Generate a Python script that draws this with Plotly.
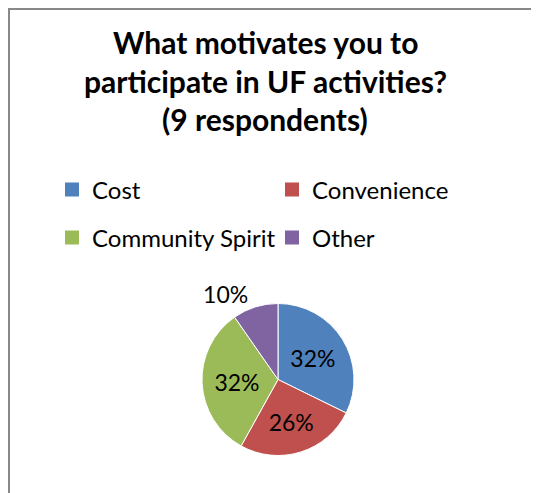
import plotly.graph_objects as go

CATEGORIES = ["Cost", "Convenience", "Community Spirit", "Other"]
VALUES = [10, 8, 10, 3]
COLORS = ["#4F81BD", "#C0504D", "#9BBB59", "#8064A2"]
TEXT_POS = ["inside", "inside", "inside", "outside"]
LEGEND_ROWS = [0, 0, 1, 1]
TITLE_LINES = ["What motivates you to", "participate in UF activities?", "(9 respondents)"]

# page is 539x493; the HTML body adds an 8px margin, so the figure fills the rest of the window
W, H = 531, 485
FONT = "Lato"

fig = go.Figure()
cx, cy, r = 270, 371.5, 76
fig.add_trace(go.Pie(
    labels=CATEGORIES, values=VALUES, sort=False, direction="clockwise", rotation=0,
    marker=dict(colors=COLORS, line=dict(color="white", width=1)),
    texttemplate="%{percent:.0%}", textposition=TEXT_POS,
    insidetextorientation="horizontal",
    textfont=dict(family=FONT, size=23, color="black"),
    showlegend=False, hoverinfo="label+percent",
    domain=dict(x=[(cx - r) / W, (cx + r) / W], y=[(H - cy - r) / H, (H - cy + r) / H]),
))

for name, col, row in zip(CATEGORIES, COLORS, LEGEND_ROWS):
    fig.add_trace(go.Scatter(
        x=[None], y=[None], mode="markers", name=name,
        marker=dict(symbol="square", size=14, color=col, line=dict(width=0)),
        legend="legend" if row == 0 else "legend2",
    ))

common = dict(orientation="h", xanchor="left", yanchor="middle",
              font=dict(family=FONT, size=24, color="black"),
              entrywidth=175, entrywidthmode="pixels",
              bgcolor="rgba(0,0,0,0)", borderwidth=0)
fig.update_layout(
    legend=dict(x=44 / W, y=1 - 182 / H, **common),
    legend2=dict(x=44 / W, y=1 - 230 / H, **common),
)

title_y = [34.5, 73, 111.5]
for line, yy in zip(TITLE_LINES, title_y):
    fig.add_annotation(text="<b>" + line + "</b>", x=257 / W, y=1 - yy / H, xref="paper", yref="paper",
                       xanchor="center", yanchor="middle", showarrow=False,
                       font=dict(family=FONT, size=30, color="black"))

fig.add_shape(type="rect", xref="paper", yref="paper",
              x0=1 / W, x1=1.2, y0=-0.2, y1=1 - 1 / H,
              line=dict(color="#888888", width=2), fillcolor="rgba(0,0,0,0)", layer="below")

fig.update_layout(
    width=W, height=H, margin=dict(l=0, r=0, t=0, b=0),
    paper_bgcolor="white", plot_bgcolor="white",
    xaxis=dict(visible=False), yaxis=dict(visible=False),
)

fig.write_html("out.html")
